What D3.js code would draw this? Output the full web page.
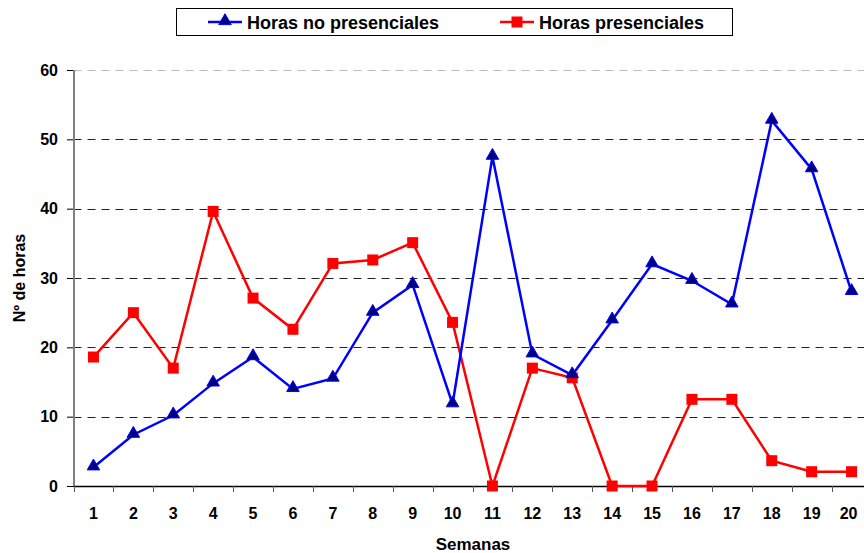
<!DOCTYPE html>
<html lang="es">
<head>
    <meta charset="utf-8">
    <title>Horas por semana</title>
    <script src="https://cdn.jsdelivr.net/npm/d3@7"></script>
</head>
<style>
    body { margin: 0; background: #fff; }
    svg { font-family: 'Liberation Sans', Arial, sans-serif; font-weight: bold; }
    .tick text { font-size: 16px; font-weight: bold; fill: #000; }
</style>
<body>
<script type="text/javascript">

    var semanas = ['1','2','3','4','5','6','7','8','9','10','11','12','13','14','15','16','17','18','19','20'];
    var noPresenciales = [2.7, 7.4, 10.2, 14.8, 18.6, 14.0, 15.5, 25.0, 29.0, 11.8,
        47.5, 19.0, 16.0, 23.9, 32.0, 29.6, 26.2, 52.7, 45.7, 28.0];
    var presenciales = [18.6, 25.0, 17.0, 39.6, 27.1, 22.6, 32.1, 32.6, 35.1, 23.6,
        0, 17.0, 15.6, 0, 0, 12.5, 12.5, 3.65, 2.06, 2.06];
    var yTicks = [0, 10, 20, 30, 40, 50, 60];
    var seriesNames = ['Horas no presenciales', 'Horas presenciales'];

    var width = 864, height = 553;
    var plot = {left: 73.5, right: 871.5, top: 70, bottom: 486};

    var svg = d3.select('body').append('svg')
        .attr('width', width)
        .attr('height', height);

    var xScale = d3.scaleBand()
        .domain(semanas)
        .range([plot.left, plot.right]);
    var yScale = d3.scaleLinear()
        .domain([0, 60])
        .range([plot.bottom, plot.top]);

    // grid lines
    svg.append('g')
        .selectAll('line')
        .data(yTicks.filter(function(d){ return d > 0; }))
        .enter()
        .append('line')
        .attr('x1', plot.left)
        .attr('x2', width)
        .attr('y1', function(d){ return Math.round(yScale(d)) + 0.5; })
        .attr('y2', function(d){ return Math.round(yScale(d)) + 0.5; })
        .attr('stroke', function(d){ return d === 60 ? '#bbb' : '#222'; })
        .attr('stroke-width', 1)
        .attr('stroke-dasharray', '8,6');

    // y axis
    var yAxis = d3.axisLeft(yScale)
        .tickValues(yTicks)
        .tickSize(7)
        .tickPadding(9);
    var gy = svg.append('g')
        .attr('transform', 'translate(74,0)')
        .call(yAxis);
    gy.select('.domain').remove();
    gy.selectAll('.tick line').attr('stroke', '#000');
    svg.append('line')
        .attr('x1', 74)
        .attr('x2', 74)
        .attr('y1', plot.top)
        .attr('y2', plot.bottom)
        .attr('stroke', '#808080')
        .attr('stroke-width', 2);

    // x axis
    var xAxis = d3.axisBottom(xScale)
        .tickSize(0)
        .tickPadding(22);
    var gx = svg.append('g')
        .attr('transform', 'translate(0,' + plot.bottom + ')')
        .call(xAxis);
    gx.select('.domain').remove();
    gx.selectAll('.tick text')
        .attr('dx', function(d){ return d === '20' ? '-3' : null; });
    svg.append('line')
        .attr('x1', 74)
        .attr('x2', width)
        .attr('y1', plot.bottom + 0.5)
        .attr('y2', plot.bottom + 0.5)
        .attr('stroke', '#000')
        .attr('stroke-width', 1.5);
    svg.append('g')
        .selectAll('line')
        .data(semanas)
        .enter()
        .append('line')
        .attr('x1', function(d){ return Math.round(xScale(d)) + 0.5; })
        .attr('x2', function(d){ return Math.round(xScale(d)) + 0.5; })
        .attr('y1', plot.bottom)
        .attr('y2', plot.bottom + 6)
        .attr('stroke', '#555')
        .attr('stroke-width', 1);

    // axis titles
    svg.append('text')
        .attr('x', 473)
        .attr('y', 550)
        .attr('text-anchor', 'middle')
        .style('font-size', '17px')
        .text('Semanas');
    svg.append('text')
        .attr('transform', 'translate(25,278) rotate(-90)')
        .attr('text-anchor', 'middle')
        .style('font-size', '16px')
        .text('Nº de horas');

    var cx = function(d, i){ return xScale(semanas[i]) + xScale.bandwidth() / 2; };
    var line = d3.line()
        .x(function(d, i){ return cx(d, i); })
        .y(function(d){ return yScale(d); });

    // red series
    svg.append('path')
        .datum(presenciales)
        .attr('d', line)
        .attr('fill', 'none')
        .attr('stroke', '#ff0000')
        .attr('stroke-width', 2.5);
    svg.append('g')
        .selectAll('rect')
        .data(presenciales)
        .enter()
        .append('rect')
        .attr('x', function(d, i){ return cx(d, i) - 5.5; })
        .attr('y', function(d){ return yScale(d) - 5.5; })
        .attr('width', 11)
        .attr('height', 11)
        .attr('fill', '#ff0000');

    // blue series
    var tri = d3.symbol().type(d3.symbolTriangle).size(68);
    svg.append('path')
        .datum(noPresenciales)
        .attr('d', line)
        .attr('fill', 'none')
        .attr('stroke', '#0000ff')
        .attr('stroke-width', 2.5);
    svg.append('g')
        .selectAll('path')
        .data(noPresenciales)
        .enter()
        .append('path')
        .attr('d', tri)
        .attr('transform', function(d, i){
            return 'translate(' + cx(d, i) + ',' + (yScale(d) - 1) + ')';
        })
        .attr('fill', '#000080')
        .attr('stroke', '#0000ff')
        .attr('stroke-width', 1);

    // legend
    var legend = svg.append('g');
    legend.append('rect')
        .attr('x', 176.5)
        .attr('y', 8.5)
        .attr('width', 556)
        .attr('height', 27)
        .attr('fill', '#fff')
        .attr('stroke', '#000')
        .attr('stroke-width', 1);
    var legendX = [208, 500];
    var legendColor = ['#0000ff', '#ff0000'];
    seriesNames.forEach(function(name, i){
        var g = legend.append('g').attr('transform', 'translate(' + legendX[i] + ',22)');
        g.append('line')
            .attr('x1', 0).attr('x2', 34)
            .attr('y1', 0).attr('y2', 0)
            .attr('stroke', legendColor[i])
            .attr('stroke-width', 2.5);
        if (i === 0) {
            g.append('path')
                .attr('d', tri)
                .attr('transform', 'translate(17,-1)')
                .attr('fill', '#000080')
                .attr('stroke', '#0000ff');
        } else {
            g.append('rect')
                .attr('x', 11.5).attr('y', -5.5)
                .attr('width', 11).attr('height', 11)
                .attr('fill', '#ff0000');
        }
        g.append('text')
            .attr('x', 39)
            .attr('y', 7)
            .style('font-size', '18px')
            .text(name);
    });

</script>
</body>
</html>
